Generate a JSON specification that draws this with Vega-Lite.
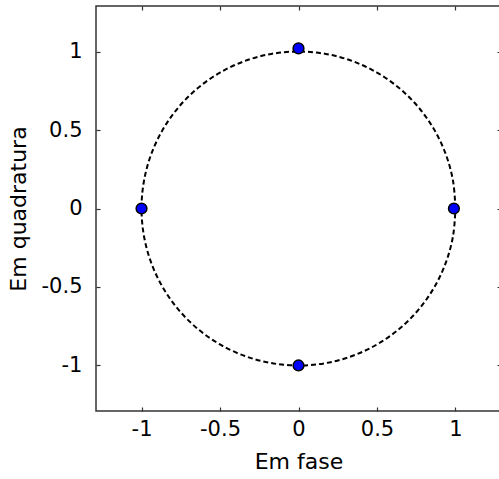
{
  "$schema": "https://vega.github.io/schema/vega-lite/v6.json",
  "width": 405,
  "height": 405,
  "autosize": "none",
  "padding": {"left": 96, "top": 6, "right": 0, "bottom": 68},
  "background": "white",
  "config": {
    "view": {"stroke": "#333", "strokeWidth": 1.5},
    "axis": {
      "domain": false, "grid": false,
      "labelFont": "DejaVu Sans", "titleFont": "DejaVu Sans",
      "labelFontSize": 21, "titleFontSize": 22,
      "labelColor": "black", "titleColor": "black", "titleFontWeight": "normal",
      "tickColor": "#333", "tickWidth": 1.2
    }
  },
  "datasets": {
    "circle": [
      {"i": 0, "x": 1, "y": 0}, {"i": 1, "x": 0.9848, "y": 0.1736}, {"i": 2, "x": 0.9397, "y": 0.342},
      {"i": 3, "x": 0.866, "y": 0.5}, {"i": 4, "x": 0.766, "y": 0.6428}, {"i": 5, "x": 0.6428, "y": 0.766},
      {"i": 6, "x": 0.5, "y": 0.866}, {"i": 7, "x": 0.342, "y": 0.9397}, {"i": 8, "x": 0.1736, "y": 0.9848},
      {"i": 9, "x": 0, "y": 1}, {"i": 10, "x": -0.1736, "y": 0.9848}, {"i": 11, "x": -0.342, "y": 0.9397},
      {"i": 12, "x": -0.5, "y": 0.866}, {"i": 13, "x": -0.6428, "y": 0.766}, {"i": 14, "x": -0.766, "y": 0.6428},
      {"i": 15, "x": -0.866, "y": 0.5}, {"i": 16, "x": -0.9397, "y": 0.342}, {"i": 17, "x": -0.9848, "y": 0.1736},
      {"i": 18, "x": -1, "y": 0}, {"i": 19, "x": -0.9848, "y": -0.1736}, {"i": 20, "x": -0.9397, "y": -0.342},
      {"i": 21, "x": -0.866, "y": -0.5}, {"i": 22, "x": -0.766, "y": -0.6428}, {"i": 23, "x": -0.6428, "y": -0.766},
      {"i": 24, "x": -0.5, "y": -0.866}, {"i": 25, "x": -0.342, "y": -0.9397}, {"i": 26, "x": -0.1736, "y": -0.9848},
      {"i": 27, "x": 0, "y": -1}, {"i": 28, "x": 0.1736, "y": -0.9848}, {"i": 29, "x": 0.342, "y": -0.9397},
      {"i": 30, "x": 0.5, "y": -0.866}, {"i": 31, "x": 0.6428, "y": -0.766}, {"i": 32, "x": 0.766, "y": -0.6428},
      {"i": 33, "x": 0.866, "y": -0.5}, {"i": 34, "x": 0.9397, "y": -0.342}, {"i": 35, "x": 0.9848, "y": -0.1736},
      {"i": 36, "x": 1, "y": 0}
    ],
    "points": [
      {"x": 0, "y": 1.02}, {"x": 0, "y": -1}, {"x": -1, "y": 0}, {"x": 0.99, "y": 0}
    ]
  },
  "layer": [
    {
      "data": {"name": "circle"},
      "mark": {"type": "line", "strokeDash": [5, 3], "strokeWidth": 2, "color": "black", "interpolate": "cardinal"},
      "encoding": {
        "x": {"field": "x", "type": "quantitative", "scale": {"domain": [-1.29, 1.29], "nice": false, "zero": false},
              "axis": {"orient": "bottom", "title": "Em fase", "values": [-1, -0.5, 0, 0.5, 1], "tickSize": -4, "labelExpr": "'' + datum.value", "labelPadding": 11, "titlePadding": 12}},
        "y": {"field": "y", "type": "quantitative", "scale": {"domain": [-1.29, 1.29], "nice": false, "zero": false},
              "axis": {"orient": "left", "title": "Em quadratura", "values": [-1, -0.5, 0, 0.5, 1], "tickSize": -4, "labelExpr": "'' + datum.value", "labelPadding": 18, "titlePadding": 11}},
        "order": {"field": "i", "type": "quantitative"}
      }
    },
    {
      "data": {"name": "points"},
      "mark": {"type": "point", "shape": "circle", "filled": true, "fill": "#0000ff", "stroke": "black", "strokeWidth": 1.5, "size": 115, "opacity": 1},
      "encoding": {
        "x": {"field": "x", "type": "quantitative", "scale": {"domain": [-1.29, 1.29], "nice": false, "zero": false},
              "axis": {"orient": "top", "labels": false, "title": null, "values": [-1, -0.5, 0, 0.5, 1], "tickSize": -4}},
        "y": {"field": "y", "type": "quantitative", "scale": {"domain": [-1.29, 1.29], "nice": false, "zero": false},
              "axis": {"orient": "right", "labels": false, "title": null, "values": [-1, -0.5, 0, 0.5, 1], "tickSize": -4}}
      }
    }
  ],
  "resolve": {"scale": {"x": "independent", "y": "independent"}, "axis": {"x": "independent", "y": "independent"}}
}
